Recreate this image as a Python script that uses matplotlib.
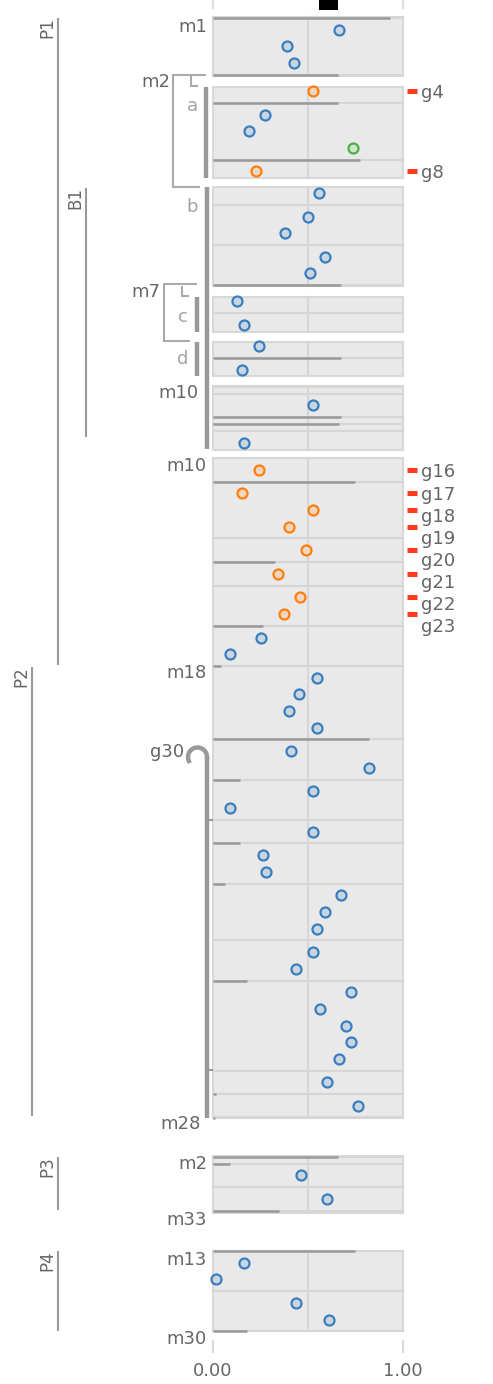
import numpy as np
import matplotlib
matplotlib.use("Agg")
import matplotlib.pyplot as plt
from matplotlib.patches import Rectangle

# ---- data (x values, grouped in blocks separated by grid lines) ----
p_m1 = [[0.663, 0.39, 0.426]]
p_a = [[0.526], [0.274, 0.19, 0.737], [0.226]]
p_b = [[0.558], [0.5, 0.379], [0.589, 0.511]]
p_c = [[0.126], [0.163]]
p_d = [[0.242], [0.153]]
p_m10 = [[], [0.526], [], [], [0.163]]
p_main = [[0.242], [0.153, 0.526, 0.4], [0.489], [0.342], [0.458, 0.374],
          [0.253, 0.09], [0.547, 0.45, 0.4, 0.547], [0.411, 0.823],
          [0.526, 0.09], [0.526], [0.263, 0.279], [0.674, 0.589, 0.547],
          [0.526, 0.437], [0.726, 0.563, 0.7, 0.726, 0.663], [0.6], [0.763]]
p_p3 = [[], [0.463], [0.6]]
p_p4 = [[0.163, 0.016], [0.437, 0.611]]

# bar value drawn on each block boundary (0 = none)
b_m1 = [0.93, 0.66]
b_a = [0, 0.66, 0.774, 0]
b_b = [0, 0, 0, 0.674]
b_c = [0, 0, 0]
b_d = [0, 0.674, 0]
b_m10 = [0, 0, 0.674, 0.663, 0, 0]
b_main = [0, 0.747, 0, 0.326, 0, 0.264, 0.04, 0.82, 0.14, 0, 0.14, 0.065,
          0, 0.177, 0, 0.015, 0.01]
b_p3 = [0.66, 0.09, 0, 0.347]
b_p4 = [0.747, 0, 0.177]

# point kinds / labels (flattened per panel)
k_a = ["hl", "base", "base", "alt", "hl"]
lab_a = ["g4", None, None, None, "g8"]
k_main = ["hl"] * 8 + ["base"] * 25
lab_main = ["g16", "g17", "g18", "g19", "g20", "g21", "g22", "g23"] + [None] * 25

styles = {
    "base": ("#3a7ebf", "#c9d6e2"),
    "hl": ("#ff7f0e", "#f1d6c0"),
    "alt": ("#4fae48", "#d0e4cc"),
}

# ---- layout (pixels) ----
W, H = 493, 1384
X0, X1 = 213, 403
ROW, PAD = 16.6, 7.0
TXT = "#666666"
LT = "#a3a3a3"


def X(px):
    return (px - X0) / (X1 - X0)


fig = plt.figure(figsize=(W / 100, H / 100), dpi=100)
ax = fig.add_axes([0, 0, 1, 1])
ax.set_xlim(X(0), X(W))
ax.set_ylim(H, 0)
ax.axis("off")

panels = [
    (p_m1, b_m1, None, None, 17, 76, 18),
    (p_a, b_a, k_a, lab_a, 87, 178, 79.2),
    (p_b, b_b, None, None, 187, 286, 181.2),
    (p_c, b_c, None, None, 297, 332, 289.2),
    (p_d, b_d, None, None, 342, 376, 334.2),
    (p_m10, b_m10, None, None, 386, 450, 386.5),
    (p_main, b_main, k_main, lab_main, 458, 1117, 458),
    (p_p3, b_p3, None, None, 1156, 1213, 1156.5),
    (p_p4, b_p4, None, None, 1251, 1331, 1251),
]

for blocks, bars, kinds, labs, top, bot, start in panels:
    rect = Rectangle((0, top), 1, bot - top, facecolor="#e9e9e9",
                     edgecolor="#d8d8d8", lw=1.5, zorder=1)
    ax.add_patch(rect)
    ax.plot([0.5, 0.5], [top, bot], color="#d6d6d6", lw=1.5, zorder=2)

    xs, ys = [], []
    y = start
    bounds = [y]
    for blk in blocks:
        y += PAD / 2
        for v in blk:
            xs.append(v)
            ys.append(y + ROW / 2)
            y += ROW
        y += PAD / 2
        bounds.append(y)

    for yb, bv in zip(bounds, bars):
        if yb < top - 1.5 or yb > bot + 1.5:
            continue
        ax.plot([0, 1], [yb, yb], color="#d6d6d6", lw=1.5, zorder=2)
        if bv > 0:
            ax.plot([0, bv], [yb, yb], color="#999999", lw=1.8, zorder=3,
                    solid_capstyle="butt")

    if kinds is None:
        kinds = ["base"] * len(xs)
    for xv, yv, kd in zip(xs, ys, kinds):
        ec, fc = styles[kd]
        ax.scatter(xv, yv, s=52, facecolor=fc, edgecolor=ec, lw=1.6, zorder=5)

    if labs is not None:
        last = -1e9
        for yv, lb in zip(ys, labs):
            if lb is None:
                continue
            ax.plot([X(407), X(417)], [yv, yv], color="#ff3b1f", lw=3.6,
                    solid_capstyle="butt")
            ly = max(yv, last + 22)
            last = ly
            ax.text(X(421), ly + 2, lb, color=TXT, fontsize=13,
                    ha="left", va="center")

# ---- left-hand annotations ----
gray = "#999999"


def seg(pts, c=gray, lw=1.5):
    a = np.array(pts, dtype=float)
    ax.plot(X(a[:, 0]), a[:, 1], color=c, lw=lw, solid_capstyle="butt",
            solid_joinstyle="miter")


# group lines P1, B1, P2, P3, P4
for name, x, y0, y1, tx in [("P1", 58, 18, 665, 57), ("B1", 86, 188, 437, 85),
                            ("P2", 32, 667, 1116, 31), ("P3", 58, 1157, 1210, 57),
                            ("P4", 58, 1251, 1331, 57)]:
    seg([(x, y0), (x, y1)])
    ax.text(X(tx - 1), y0 - 1, name, rotation=90, ha="right", va="top",
            color=TXT, fontsize=12)

# brackets m2 and m7
seg([(206, 75), (173, 75), (173, 187), (200, 187)], c="#aaaaaa")
seg([(190.5, 76), (190.5, 86), (198, 86)], c="#aaaaaa")
seg([(197, 284), (164, 284), (164, 341), (190, 341)], c="#aaaaaa")
seg([(181.5, 286), (181.5, 296), (189, 296)], c="#aaaaaa")

# thick bars
seg([(206, 87), (206, 178)], lw=3.2)
seg([(207, 187), (207, 449)], lw=3.2)
seg([(197, 297), (197, 332)], lw=3.2)
seg([(197, 342), (197, 376)], lw=3.2)
seg([(207, 757), (207, 1118)], lw=3.2)
seg([(207, 819.5), (213, 819.5)])
seg([(207, 1069.5), (213, 1069.5)])

th = np.radians(np.linspace(0, 205, 40))
ax.plot(X(197.5 + 9.5 * np.cos(th)), 757 - 9.5 * np.sin(th), color=gray, lw=3.2)

for s, xr, yc, c in [("m1", 207, 27, TXT), ("m2", 170, 82, TXT),
                     ("a", 198, 106, LT), ("b", 198, 207, LT),
                     ("m7", 160, 292, TXT), ("c", 188, 317, LT),
                     ("d", 188, 359, LT), ("m10", 198, 393, TXT),
                     ("m10", 207, 466, TXT), ("m18", 207, 673, TXT),
                     ("g30", 184, 752, TXT), ("m28", 201, 1124, TXT),
                     ("m2", 207, 1164, TXT), ("m33", 207, 1220, TXT),
                     ("m13", 207, 1260, TXT), ("m30", 207, 1339, TXT)]:
    ax.text(X(xr), yc, s, ha="right", va="center", color=c, fontsize=13)

# top remnant
ax.add_patch(Rectangle((X(319), 0), X(338) - X(319), 10, color="black", lw=0))
ax.plot([0, 0], [0, 8], color="#dddddd", lw=1.5)
ax.plot([1, 1], [0, 8], color="#dddddd", lw=1.5)

# x axis
for v, lb in [(0, "0.00"), (1, "1.00")]:
    ax.plot([v, v], [1341, 1352], color="#d9d9d9", lw=1.5)
    ax.text(v, 1371, lb, ha="center", va="center", color=TXT, fontsize=13)

fig.savefig("out.png", dpi=100)
